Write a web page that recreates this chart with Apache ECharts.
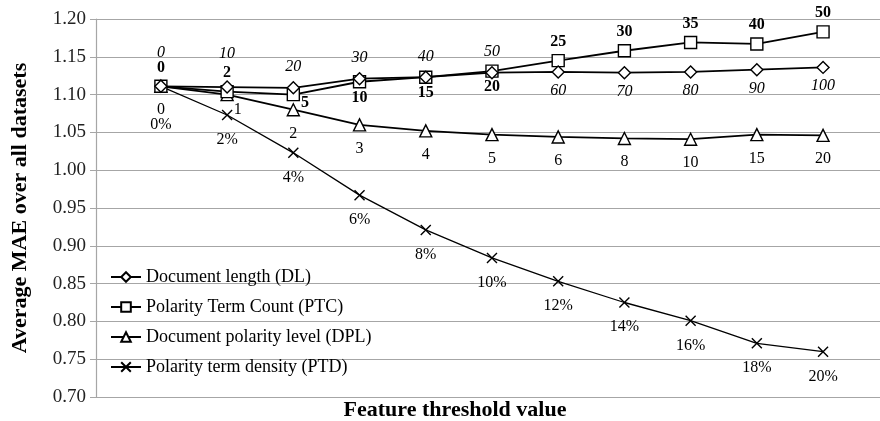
<!DOCTYPE html>
<html>
<head>
<meta charset="utf-8">
<script src="https://cdn.jsdelivr.net/npm/echarts@6/dist/echarts.min.js"></script>
<style>
html,body{margin:0;padding:0;background:#fff;}
#chart{width:880px;height:421px;}
</style>
</head>
<body>
<div id="chart"></div>
<script>
// ---- data ----
const seriesNames = ['Document length (DL)', 'Polarity Term Count (PTC)', 'Document polarity level (DPL)', 'Polarity term density (PTD)'];
const dlValues  = [1.111, 1.110, 1.109, 1.121, 1.123, 1.129, 1.130, 1.129, 1.130, 1.133, 1.136];
const ptcValues = [1.111, 1.104, 1.100, 1.117, 1.123, 1.131, 1.145, 1.158, 1.169, 1.167, 1.183];
const dplValues = [1.111, 1.100, 1.080, 1.060, 1.052, 1.047, 1.044, 1.042, 1.041, 1.047, 1.046];
const ptdValues = [1.111, 1.073, 1.023, 0.967, 0.921, 0.884, 0.853, 0.825, 0.801, 0.771, 0.760];
const dlLabels  = ['0','10','20','30','40','50','60','70','80','90','100'];
const ptcLabels = ['0','2','5','10','15','20','25','30','35','40','50'];
const dplLabels = ['0','1','2','3','4','5','6','8','10','15','20'];
const ptdLabels = ['0%','2%','4%','6%','8%','10%','12%','14%','16%','18%','20%'];
const yTicks = [0.70, 0.75, 0.80, 0.85, 0.90, 0.95, 1.00, 1.05, 1.10, 1.15, 1.20];

// ---- build ----
const FONT = '"Liberation Serif", "DejaVu Serif", serif';
function build(values, labels, labelFn) {
  return values.map((v, i) => ({
    value: [i, v],
    label: Object.assign({ formatter: labels[i] }, labelFn(i))
  }));
}
const dlData = build(dlValues, dlLabels, i => {
  if (i <= 1) return { position: 'top', distance: 19 };
  if (i <= 5) return { position: 'top', distance: 6 };
  return { position: 'bottom', distance: 4 };
});
const ptcData = build(ptcValues, ptcLabels, i => {
  if (i <= 1) return { position: 'top', distance: 4 };
  if (i === 2) return { position: 'right', distance: 1, offset: [0, 8] };
  if (i <= 5) return { position: 'bottom', distance: 1 };
  return { position: 'top', distance: 4 };
});
const dplData = build(dplValues, dplLabels, i => {
  if (i === 1) return { position: 'right', distance: 0, offset: [0, 15] };
  return { position: 'bottom', distance: 9 };
});
const ptdData = build(ptdValues, ptdLabels, i => {
  if (i === 0) return { position: 'bottom', distance: 25 };
  return { position: 'bottom', distance: 11 };
});

const crossPath = 'path://M0,0L10,10M10,0L0,10';
function mkSeries(name, data, symbol, symbolSize, lw, labelStyle) {
  return {
    name: name,
    type: 'line',
    data: data,
    symbol: symbol,
    symbolSize: symbolSize,
    showAllSymbol: true,
    lineStyle: { color: '#000', width: lw },
    itemStyle: { color: symbol === crossPath ? 'rgba(0,0,0,0)' : '#fff', borderColor: '#000', borderWidth: 1.4 },
    label: Object.assign({ show: true, color: '#000', fontFamily: FONT, fontSize: 16 }, labelStyle),
    emphasis: { disabled: true },
    animation: false
  };
}

const chart = echarts.init(document.getElementById('chart'));
chart.setOption({
  backgroundColor: '#fff',
  animation: false,
  grid: { left: 96, right: 0, top: 19, bottom: 24, containLabel: false, outerBoundsMode: 'none' },
  legend: {
    orient: 'vertical',
    left: 105,
    top: 263,
    itemWidth: 30,
    itemHeight: 12,
    itemGap: 12,
    textStyle: { fontFamily: FONT, fontSize: 18, color: '#000' },
    data: seriesNames
  },
  xAxis: {
    type: 'value',
    min: -0.98,
    max: 10.86,
    axisLabel: { show: false },
    axisTick: { show: false },
    splitLine: { show: false },
    axisLine: { show: true, onZero: false, lineStyle: { color: '#a6a6a6', width: 1.2 } },
    name: 'Feature threshold value',
    nameLocation: 'middle',
    nameGap: 2,
    nameTextStyle: { fontFamily: FONT, fontSize: 22, fontWeight: 'bold', color: '#000', padding: [0, 66, 0, 0] }
  },
  yAxis: {
    type: 'value',
    min: yTicks[0],
    max: yTicks[yTicks.length - 1],
    interval: 0.05,
    axisLine: { show: true, onZero: false, lineStyle: { color: '#a6a6a6', width: 1.2 } },
    axisTick: { show: true, inside: false, length: 6, lineStyle: { color: '#a6a6a6' } },
    splitLine: { show: true, lineStyle: { color: '#a6a6a6', width: 1.2 } },
    axisLabel: { fontFamily: FONT, fontSize: 19, color: '#222', margin: 10, formatter: v => v.toFixed(2) },
    name: 'Average MAE over all datasets',
    nameLocation: 'middle',
    nameGap: 65,
    nameTextStyle: { fontFamily: FONT, fontSize: 22, fontWeight: 'bold', color: '#000' }
  },
  series: [
    mkSeries(seriesNames[3], ptdData, crossPath, 10, 1.3, {}),
    mkSeries(seriesNames[2], dplData, 'triangle', 12, 1.8, {}),
    mkSeries(seriesNames[1], ptcData, 'rect', 12, 1.8, { fontWeight: 'bold' }),
    mkSeries(seriesNames[0], dlData, 'diamond', 12, 1.8, { fontStyle: 'italic' })
  ]
});
</script>
</body>
</html>
